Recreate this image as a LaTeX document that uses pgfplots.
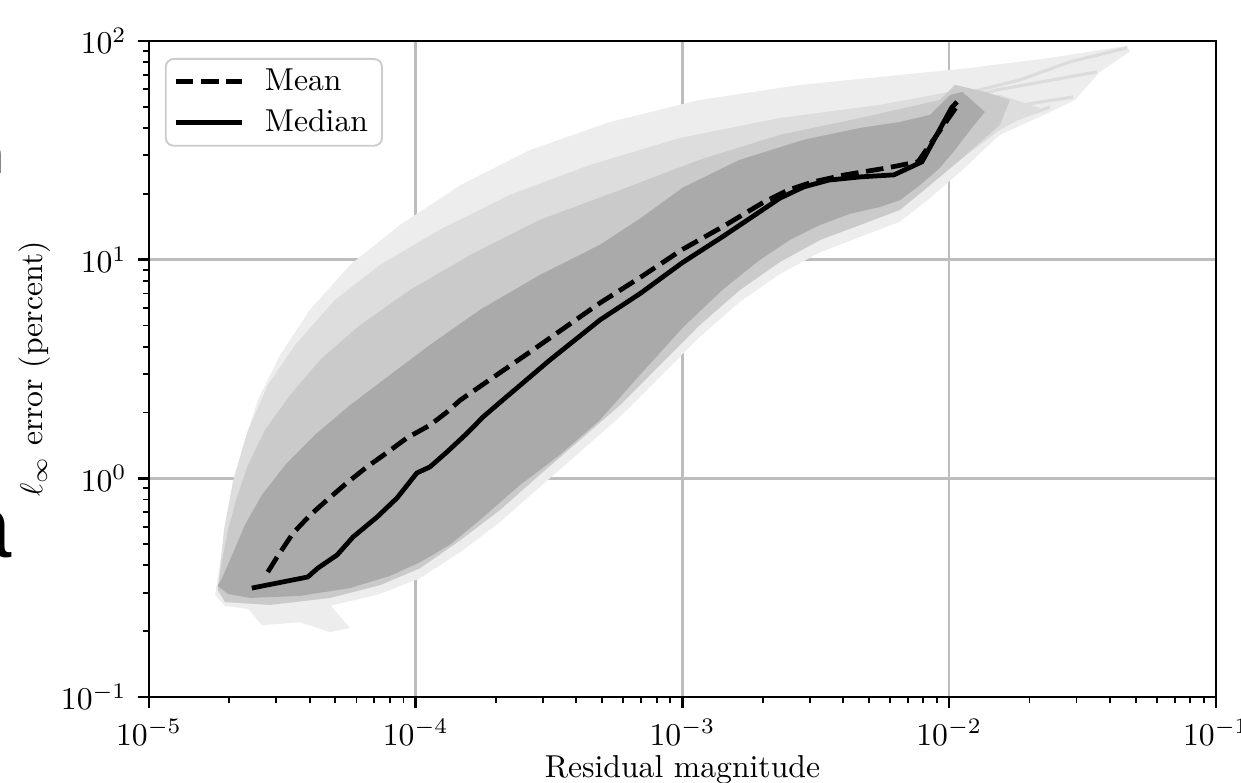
\documentclass[border=0pt]{standalone}
\usepackage{fontspec}
\usepackage{pgfplots}
\pgfplotsset{compat=1.18}
\newfontfamily\fragfont{Liberation Sans}
\definecolor{core}{HTML}{AAAAAA}
\definecolor{midg}{HTML}{CACACA}
\definecolor{lightg}{HTML}{DDDDDD}
\definecolor{faint}{HTML}{EDEDED}
\definecolor{fan}{HTML}{DCDCDC}
\definecolor{gridc}{HTML}{BDBDBD}

\begin{document}
\begin{tikzpicture}
\begin{loglogaxis}[
  scale only axis, width=336.6pt, height=207pt,
  xmin=1e-5, xmax=1e-1, ymin=1e-1, ymax=1e2,
  grid=major, major grid style={draw=gridc, line width=0.8pt},
  tick align=outside, xtick pos=bottom, ytick pos=left,
  major tick length=3.5pt, minor tick length=2pt,
  every tick/.append style={black, line width=0.8pt},
  every minor tick/.append style={black, line width=0.6pt},
  axis line style={line width=0.8pt},
  xlabel={Residual magnitude}, ylabel={$\ell_\infty$ error (percent)},
  xlabel shift=-3.5pt, ylabel shift=-3.5pt,
  legend cell align=left,
  legend image code/.code={\draw[#1] (0pt,0pt) -- (21pt,0pt);},
  legend style={at={(0,1)}, anchor=north west, xshift=5pt, yshift=-5.4pt,
    draw=black!20, rounded corners=2.5pt, line width=0.6pt, fill=white,
    inner xsep=2.4pt, inner ysep=1pt, row sep=0.6pt, column sep=4.4pt, font=\normalsize},
]
% faint envelope of all runs
\addplot[draw=none, fill=faint, forget plot] coordinates {
  (1.77e-5,0.293) (1.88e-5,0.470) (2.01e-5,0.796) (2.23e-5,1.35) (2.56e-5,2.28)
  (3.10e-5,3.66) (4.01e-5,5.89) (5.67e-5,9.45) (8.73e-5,14.4) (1.47e-4,21.9)
  (2.68e-4,31.7) (5.35e-4,42.6) (1.16e-3,53.7) (2.76e-3,62.9) (6.54e-3,69.9)
  (1.20e-2,75.2) (2.39e-2,83.6) (4.64e-2,94.9) (4.76e-2,89.1) (3.67e-2,72.1)
  (2.96e-2,53.7) (2.39e-2,47.3) (1.55e-2,37.2) (1.10e-2,25.2) (8.47e-3,19.1)
  (6.54e-3,14.9) (4.63e-3,12.7) (3.28e-3,10.8) (2.32e-3,8.60) (1.64e-3,6.40)
  (1.16e-3,4.43) (8.24e-4,2.91) (5.83e-4,1.91) (4.13e-4,1.32) (2.92e-4,0.913)
  (2.07e-4,0.631) (1.47e-4,0.460) (1.04e-4,0.350) (7.35e-5,0.296) (4.77e-5,0.261)
  (2.84e-5,0.245) (1.93e-5,0.261)
} -- cycle;
\addplot[draw=none, fill=faint, forget plot] coordinates {
  (2.29e-5,0.264) (2.65e-5,0.213) (3.68e-5,0.220) (4.77e-5,0.198) (5.67e-5,0.207) (4.77e-5,0.264)
} -- cycle;
% fan of runs past the kink
\addplot[fan, line width=1pt, forget plot] coordinates {(1.10e-2,56.6) (1.84e-2,66.3) (2.84e-2,80.2) (4.64e-2,93.0)};
\addplot[fan, line width=1pt, forget plot] coordinates {(1.10e-2,53.7) (1.51e-2,59.7) (3.58e-2,72.1)};
\addplot[fan, line width=1pt, forget plot] coordinates {(1.10e-2,45.9) (1.27e-2,47.3) (2.91e-2,55.4)};
\addplot[fan, line width=1pt, forget plot] coordinates {(1.05e-2,35.3) (1.55e-2,41.3) (2.39e-2,49.9)};
% denser layers
\addplot[draw=none, fill=lightg, forget plot] coordinates {
  (1.81e-5,0.309) (1.91e-5,0.580) (2.07e-5,0.983) (2.35e-5,1.66) (2.79e-5,2.67)
  (3.53e-5,4.07) (4.98e-5,6.54) (7.35e-5,9.45) (1.23e-4,13.7) (2.26e-4,19.8)
  (4.50e-4,27.1) (9.79e-4,36.0) (2.32e-3,44.4) (5.50e-3,51.0) (1.01e-2,58.5)
  (1.55e-2,56.6) (2.19e-2,49.4) (1.55e-2,39.2)
  (1.10e-2,28.6) (8.47e-3,21.9) (6.54e-3,16.9) (4.63e-3,14.4) (3.28e-3,12.3)
  (2.32e-3,9.76) (1.64e-3,7.26) (1.16e-3,5.02) (8.24e-4,3.30) (5.83e-4,2.16)
  (4.13e-4,1.50) (2.92e-4,1.04) (2.07e-4,0.717) (1.47e-4,0.522) (1.04e-4,0.389)
  (7.35e-5,0.325) (4.77e-5,0.284) (2.84e-5,0.264) (1.93e-5,0.272)
} -- cycle;
\addplot[draw=none, fill=midg, forget plot] coordinates {
  (1.81e-5,0.309) (1.88e-5,0.423) (1.98e-5,0.580) (2.12e-5,0.796) (2.35e-5,1.15)
  (2.72e-5,1.66) (3.38e-5,2.40) (4.38e-5,3.48) (6.18e-5,5.02) (9.52e-5,7.26)
  (1.60e-4,10.5) (2.92e-4,15.2) (5.83e-4,20.8) (1.16e-3,28.6) (2.32e-3,37.2)
  (4.63e-3,44.4) (9.24e-3,53.7) (1.05e-2,62.9) (1.36e-2,58.5) (1.69e-2,53.7)
  (1.55e-2,41.3)
  (1.10e-2,28.6) (8.47e-3,21.9) (6.54e-3,16.9) (4.63e-3,14.4) (3.28e-3,12.3)
  (2.32e-3,9.76) (1.64e-3,7.26) (1.16e-3,5.02) (8.24e-4,3.30) (5.83e-4,2.16)
  (4.13e-4,1.50) (2.92e-4,1.04) (2.07e-4,0.717) (1.47e-4,0.522) (1.04e-4,0.389)
  (7.35e-5,0.325) (4.77e-5,0.284) (2.84e-5,0.264) (1.93e-5,0.272)
} -- cycle;
\addplot[draw=none, fill=core, forget plot] coordinates {
  (1.88e-5,0.350) (2.05e-5,0.446) (2.29e-5,0.612) (2.65e-5,0.839) (3.24e-5,1.15)
  (4.19e-5,1.58) (5.67e-5,2.16) (8.01e-5,2.97) (1.13e-4,4.07) (1.74e-4,5.89)
  (2.92e-4,8.51) (4.91e-4,11.7) (6.99e-4,15.5) (1.00e-3,21.3) (1.64e-3,28.6)
  (2.85e-3,35.3) (4.63e-3,40.0) (6.54e-3,42.6) (8.47e-3,45.9) (1.01e-2,56.6)
  (1.12e-2,58.5) (1.36e-2,47.3) (1.20e-2,39.2) (1.05e-2,31.7)
  (9.24e-3,26.3) (7.77e-3,21.9) (6.54e-3,18.7) (5.50e-3,17.4) (4.25e-3,16.2)
  (3.28e-3,14.4) (2.53e-3,12.3) (1.95e-3,9.97) (1.41e-3,7.26) (1.00e-3,4.87)
  (6.93e-4,2.97) (4.91e-4,1.85) (3.47e-4,1.28) (2.46e-4,0.932) (1.74e-4,0.645)
  (1.34e-4,0.496) (1.04e-4,0.414) (8.01e-5,0.358) (5.67e-5,0.315) (3.68e-5,0.290)
  (2.39e-5,0.284) (1.98e-5,0.296) (1.81e-5,0.322)
} -- cycle;
% statistics
\addplot[black, line width=1.5pt, dash pattern=on 5.55pt off 2.4pt] coordinates {
  (2.79e-5,0.373) (3.02e-5,0.436) (3.47e-5,0.562) (4.02e-5,0.679) (4.65e-5,0.796)
  (5.52e-5,0.953) (6.56e-5,1.127) (7.80e-5,1.31) (9.27e-5,1.53) (1.13e-4,1.75)
  (1.31e-4,2.01) (1.47e-4,2.28) (2.68e-4,3.78) (4.91e-4,6.34) (6.99e-4,8.33)
  (9.96e-4,11.1) (1.41e-3,14.1) (2.00e-3,18.2) (2.49e-3,20.8) (3.06e-3,22.6)
  (4.06e-3,24.4) (5.79e-3,26.2) (7.64e-3,28.0) (1.09e-2,52.0)
};
\addlegendentry{Mean}
\addplot[black, line width=1.5pt] coordinates {
  (2.43e-5,0.315) (3.94e-5,0.354) (4.30e-5,0.389) (5.07e-5,0.446) (5.82e-5,0.539)
  (7.16e-5,0.665) (8.51e-5,0.813) (1.01e-4,1.058) (1.13e-4,1.127) (1.31e-4,1.32)
  (1.56e-4,1.61) (1.79e-4,1.91) (2.12e-4,2.28) (3.18e-4,3.47) (4.91e-4,5.30)
  (6.99e-4,7.04) (9.96e-4,9.66) (1.41e-3,12.7) (1.87e-3,16.0) (2.32e-3,19.1)
  (2.85e-3,21.5) (3.54e-3,23.1) (4.67e-3,23.9) (6.21e-3,24.4) (7.91e-3,28.0)
  (1.02e-2,49.4) (1.07e-2,52.6)
};
\addlegendentry{Median}
\coordinate (bl) at (rel axis cs:0,0);
\coordinate (tr) at (rel axis cs:1,1);
\end{loglogaxis}
% slivers of neighbouring text cut by the crop
\node[anchor=base east, inner sep=0pt, font=\fragfont\fontsize{17}{19}\selectfont] at ([shift={(-45.5pt,165.3pt)}]bl) {n};
\node[anchor=base east, inner sep=0pt, font=\fragfont\fontsize{28}{30}\selectfont] at ([shift={(-43pt,43.9pt)}]bl) {a};
\pgfresetboundingbox
\path ([shift={(-47pt,-27.1pt)}]bl) rectangle ([shift={(7.9pt,12.9pt)}]tr);
\end{tikzpicture}
\end{document}
